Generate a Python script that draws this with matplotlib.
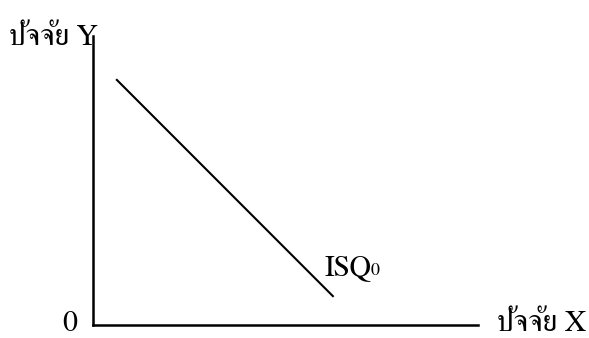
import matplotlib
matplotlib.use('Agg')
import matplotlib.pyplot as plt

# isoquant line (data units, axes 0..100)
isq_x = [6.2, 62.3]
isq_y = [84.8, 10.0]
label_isq = 'ISQ'
label_sub = '0'
label_x = 'ปัจจัย X'
label_y = 'ปัจจัย Y'
label_origin = '0'

plt.rcParams['font.family'] = ['FreeSerif', 'DejaVu Serif']
W, H = 589, 338
fig = plt.figure(figsize=(W/100, H/100), dpi=100)
ax = fig.add_axes([93/W, 13/H, 385/W, 289/H])
ax.plot(isq_x, isq_y, color='black', lw=1.5)
ax.set_xlim(0, 100), ax.set_ylim(0, 100)
for s in ['top', 'right']:
    ax.spines[s].set_visible(False)
for s in ['left', 'bottom']:
    ax.spines[s].set_linewidth(1.8)
ax.set_xticks([]), ax.set_yticks([])

def px(x, y, s, fs=21.5):                      # text placed by pixel, baseline
    fig.text(x/W, 1 - y/H, s, fontsize=fs, va='baseline', ha='left')

px(9, 45, label_y)
px(497, 331, label_x)
px(62, 331, label_origin)
px(325, 275, label_isq)
px(371, 275, label_sub, 13)
fig.savefig('out.png', dpi=100)
